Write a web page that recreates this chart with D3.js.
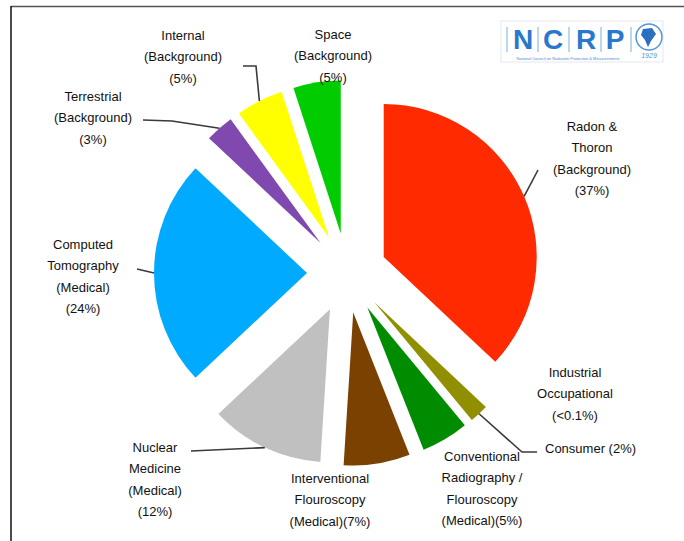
<!DOCTYPE html>
<html>
<head>
<meta charset="utf-8">
<script src="https://cdn.jsdelivr.net/npm/d3@7/dist/d3.min.js"></script>
<style>
  html, body { margin: 0; padding: 0; background: #ffffff; }
  svg { display: block; }
  text { font-family: "Liberation Sans", Arial, sans-serif; fill: #111; }
</style>
</head>
<body>
<svg id="chart" width="684" height="541"></svg>
<script>
// Sources of radiation exposure (percent of total dose)
const categories = [
  "Radon & Thoron (Background)",
  "Industrial Occupational",
  "Consumer",
  "Conventional Radiography / Flouroscopy (Medical)",
  "Interventional Flouroscopy (Medical)",
  "Nuclear Medicine (Medical)",
  "Computed Tomography (Medical)",
  "Terrestrial (Background)",
  "Internal (Background)",
  "Space (Background)"
];
const values = [37, 0.01, 2, 5, 7, 12, 24, 3, 5, 5];
const colors = ["#ff2a00", "#f4f4d0", "#8f8f00", "#008c00", "#7a4100",
                "#c0c0c0", "#00aaff", "#8049b0", "#ffff00", "#00cc00"];

// Label text, one entry per line
const labelLines = [
  ["Radon &", "Thoron", "(Background)", "(37%)"],
  ["Industrial", "Occupational", "(<0.1%)"],
  ["Consumer (2%)"],
  ["Conventional", "Radiography /", "Flouroscopy", "(Medical)(5%)"],
  ["Interventional", "Flouroscopy", "(Medical)(7%)"],
  ["Nuclear", "Medicine", "(Medical)", "(12%)"],
  ["Computed", "Tomography", "(Medical)", "(24%)"],
  ["Terrestrial", "(Background)", "(3%)"],
  ["Internal", "(Background)", "(5%)"],
  ["Space", "(Background)", "(5%)"]
];

// Label placement: x, first baseline, anchor; leader elbows (null = no leader)
const labelLayout = [
  { x: 592, y: 131, anchor: "middle", leader: [[538, 170]] },
  { x: 575, y: 377, anchor: "middle", leader: null },
  { x: 545, y: 453, anchor: "start",  leader: [[522, 452], [537, 452]] },
  { x: 482, y: 461, anchor: "middle", leader: null },
  { x: 330, y: 483, anchor: "middle", leader: null },
  { x: 155, y: 452, anchor: "middle", leader: [[191, 451]] },
  { x: 83,  y: 249, anchor: "middle", leader: [[137, 269]] },
  { x: 93,  y: 101, anchor: "middle", leader: [[172, 121], [143, 120]] },
  { x: 183, y: 40,  anchor: "middle", leader: [[256, 66], [243, 66]] },
  { x: 333, y: 39,  anchor: "middle", leader: null }
];

const W = 684, H = 541;
const cx = 347, cy = 273;
const radius = 153;
const explode = 40;
const lineGap = 21.3;

const svg = d3.select("#chart");

// frame
svg.append("line").attr("x1", 11).attr("y1", 6.5).attr("x2", W).attr("y2", 6.5)
  .attr("stroke", "#555").attr("stroke-width", 1.5);
svg.append("line").attr("x1", 11).attr("y1", 6).attr("x2", 11).attr("y2", H)
  .attr("stroke", "#111").attr("stroke-width", 1.5);

const pie = d3.pie().sort(null).value(d => d);
const arcs = pie(values);
const arc = d3.arc().innerRadius(0).outerRadius(radius);

const g = svg.append("g").attr("transform", `translate(${cx},${cy})`);

function offsetOf(d) {
  const a = (d.startAngle + d.endAngle) / 2;
  return [explode * Math.sin(a), -explode * Math.cos(a)];
}

g.selectAll("path.slice")
  .data(arcs)
  .join("path")
  .attr("class", "slice")
  .attr("d", arc)
  .attr("fill", (d, i) => colors[i])
  .attr("transform", d => {
    const [ox, oy] = offsetOf(d);
    return `translate(${ox},${oy})`;
  });

// leader lines start on the outer rim at each slice's mid angle
const leaders = svg.append("g");
arcs.forEach((d, i) => {
  const lay = labelLayout[i];
  if (!lay.leader) return;
  const a = (d.startAngle + d.endAngle) / 2;
  const [ox, oy] = offsetOf(d);
  const sx = cx + ox + radius * Math.sin(a);
  const sy = cy + oy - radius * Math.cos(a);
  const pts = [[sx, sy], ...lay.leader];
  leaders.append("path")
    .attr("d", d3.line()(pts))
    .attr("fill", "none")
    .attr("stroke", "#3a3a3a")
    .attr("stroke-width", 1.6);
});

// labels
const labels = svg.append("g");
labelLines.forEach((lines, i) => {
  const lay = labelLayout[i];
  const t = labels.append("text")
    .attr("text-anchor", lay.anchor)
    .attr("font-size", 13);
  lines.forEach((s, k) => {
    t.append("tspan").attr("x", lay.x).attr("y", lay.y + k * lineGap).text(s);
  });
});

// NCRP logo
const logo = svg.append("g");
logo.append("rect").attr("x", 501).attr("y", 21).attr("width", 162).attr("height", 41)
  .attr("fill", "#ffffff").attr("stroke", "#e4e8ee").attr("stroke-width", 1);
const letters = ["N", "C", "R", "P"];
const letterX = [523, 553, 586, 615];
letters.forEach((ch, i) => {
  logo.append("text").attr("x", letterX[i]).attr("y", 49)
    .attr("text-anchor", "middle").attr("font-size", 28).attr("font-weight", "bold")
    .style("fill", "#2a78cc").text(ch);
});
[507, 538, 569, 601, 631].forEach(x => {
  logo.append("line").attr("x1", x).attr("x2", x).attr("y1", 27).attr("y2", 52)
    .attr("stroke", "#7aaee0").attr("stroke-width", 1);
});
logo.append("text").attr("x", 568).attr("y", 60).attr("text-anchor", "middle")
  .attr("font-size", 4).style("fill", "#4d8ad0")
  .text("National Council on Radiation Protection & Measurements");
logo.append("circle").attr("cx", 649).attr("cy", 37).attr("r", 13)
  .attr("fill", "none").attr("stroke", "#5a94d6").attr("stroke-width", 1.5);
logo.append("path").attr("d", "M643,29 L652,28 L656,34 L651,41 L648,47 L645,40 L641,35 Z")
  .attr("fill", "#2a6fc0");
logo.append("text").attr("x", 649).attr("y", 58).attr("text-anchor", "middle")
  .attr("font-size", 7).attr("font-style", "italic").style("fill", "#5a94d6").text("1929");
</script>
</body>
</html>
